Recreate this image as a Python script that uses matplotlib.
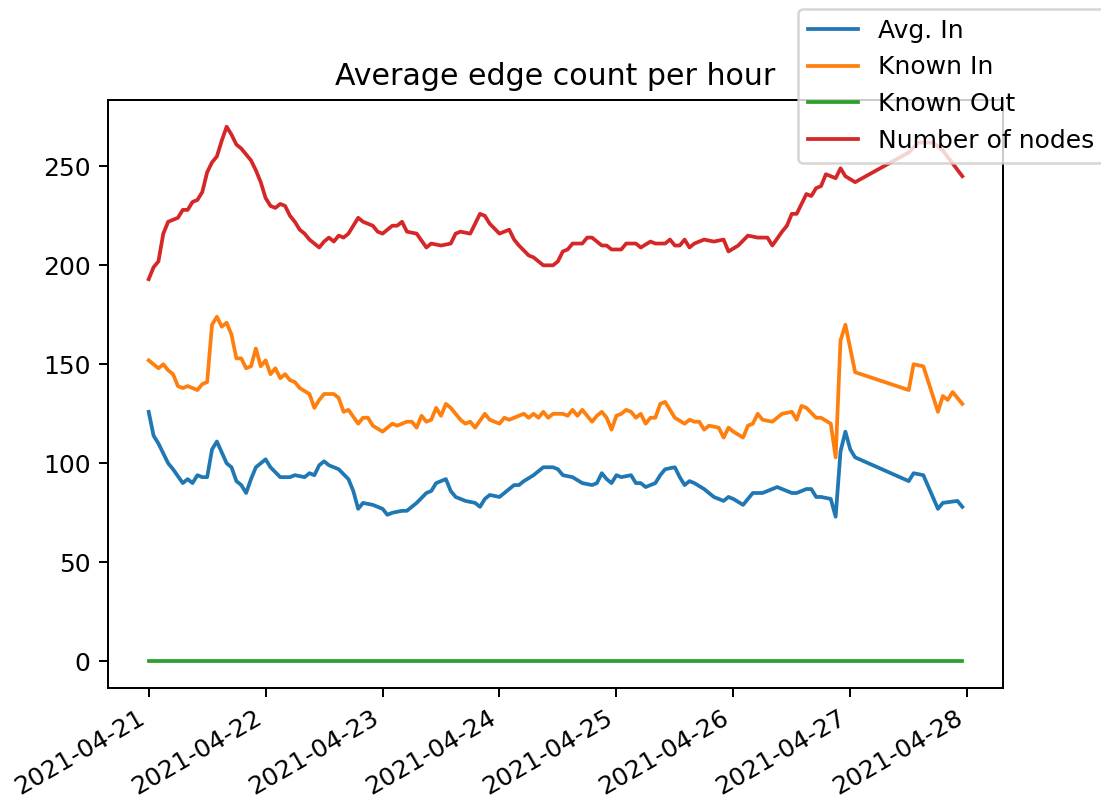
import pandas as pd
import matplotlib.pyplot as plt

# hours after 2021-04-21 00:00
avg_in_h = [0, 1, 2, 4, 5, 7, 8, 9, 10, 11, 12, 13, 14, 16, 17, 18, 19, 20, 21, 22, 24, 25, 27, 29, 30,
            32, 33, 34, 35, 36, 37, 39, 41, 42, 43, 44, 46, 48, 49, 50, 52, 53, 54, 55, 57, 58, 59, 61,
            62, 63, 65, 67, 68, 69, 70, 72, 73, 75, 76, 77, 79, 81, 83, 84, 85, 87, 89, 91, 92, 93, 94,
            95, 96, 97, 99, 100, 101, 102, 104, 105, 106, 108, 109, 110, 111, 112, 114, 116, 118, 119,
            120, 122, 124, 125, 126, 129, 130, 132, 133, 135, 136, 137, 138, 140, 141, 142, 143, 144,
            145, 156, 157, 159, 162, 163, 166, 167]
avg_in = [126, 114, 110, 100, 97, 90, 92, 90, 94, 93, 93, 107, 111, 100, 98, 91, 89, 85, 92, 98, 102, 98,
          93, 93, 94, 93, 95, 94, 99, 101, 99, 97, 92, 86, 77, 80, 79, 77, 74, 75, 76, 76, 78, 80, 85,
          86, 90, 92, 86, 83, 81, 80, 78, 82, 84, 83, 85, 89, 89, 91, 94, 98, 98, 97, 94, 93, 90, 89,
          90, 95, 92, 90, 94, 93, 94, 90, 90, 88, 90, 94, 97, 98, 93, 89, 91, 90, 87, 83, 81, 83, 82,
          79, 85, 85, 85, 88, 87, 85, 85, 87, 87, 83, 83, 82, 73, 106, 116, 107, 103, 91, 95, 94, 77,
          80, 81, 78]

known_in_h = [0, 2, 3, 4, 5, 6, 7, 8, 10, 11, 12, 13, 14, 15, 16, 17, 18, 19, 20, 21, 22, 23, 24, 25, 26,
              27, 28, 29, 30, 31, 33, 34, 35, 36, 38, 39, 40, 41, 43, 44, 45, 46, 48, 50, 51, 53, 54, 55,
              56, 57, 58, 59, 60, 61, 62, 64, 65, 66, 67, 69, 70, 72, 73, 74, 76, 77, 78, 79, 80, 81, 82,
              83, 85, 86, 87, 88, 89, 91, 92, 93, 94, 95, 96, 97, 98, 99, 100, 101, 102, 103, 104, 105,
              106, 107, 108, 110, 111, 112, 113, 114, 115, 117, 118, 119, 120, 122, 123, 124, 125, 126,
              128, 129, 130, 132, 133, 134, 135, 137, 138, 140, 141, 142, 143, 144, 145, 156, 157, 159,
              162, 163, 164, 165, 167]
known_in = [152, 148, 150, 147, 145, 139, 138, 139, 137, 140, 141, 170, 174, 169, 171, 165, 153, 153, 148,
            149, 158, 149, 152, 145, 148, 143, 145, 142, 141, 138, 135, 128, 132, 135, 135, 133, 126, 127,
            120, 123, 123, 119, 116, 120, 119, 121, 121, 118, 124, 121, 122, 128, 124, 130, 128, 122, 120,
            121, 118, 125, 122, 120, 123, 122, 124, 125, 123, 125, 123, 126, 123, 125, 125, 124, 127, 124,
            127, 121, 124, 126, 123, 117, 124, 125, 127, 126, 123, 125, 120, 123, 123, 130, 131, 127, 123,
            120, 122, 121, 121, 117, 119, 118, 113, 118, 116, 113, 119, 120, 125, 122, 121, 123, 125, 126,
            122, 129, 128, 123, 123, 120, 103, 162, 170, 158, 146, 137, 150, 149, 126, 134, 132, 136, 130]

known_out_h = [0, 145, 156, 167]
known_out = [0, 0, 0, 0]

nodes_h = [0, 1, 2, 3, 4, 6, 7, 8, 9, 10, 11, 12, 13, 14, 15, 16, 17, 18, 19, 21, 22, 23, 24, 25, 26, 27,
           28, 29, 30, 31, 32, 33, 35, 36, 37, 38, 39, 40, 41, 43, 44, 46, 47, 48, 50, 51, 52, 53, 55, 57,
           58, 60, 62, 63, 64, 66, 67, 68, 69, 70, 72, 74, 75, 76, 78, 79, 81, 83, 84, 85, 86, 87, 89, 90,
           91, 93, 94, 95, 97, 98, 100, 101, 103, 104, 106, 107, 108, 109, 110, 111, 112, 113, 114, 116,
           118, 119, 121, 123, 125, 127, 128, 130, 131, 132, 133, 135, 136, 137, 138, 139, 141, 142, 143,
           145, 156, 158, 161, 163, 167]
nodes = [193, 199, 202, 216, 222, 224, 228, 228, 232, 233, 237, 247, 252, 255, 263, 270, 266, 261, 259, 253,
         248, 242, 234, 230, 229, 231, 230, 225, 222, 218, 216, 213, 209, 212, 214, 212, 215, 214, 216, 224,
         222, 220, 217, 216, 220, 220, 222, 217, 216, 209, 211, 210, 211, 216, 217, 216, 221, 226, 225, 221,
         216, 218, 213, 210, 205, 204, 200, 200, 202, 207, 208, 211, 211, 214, 214, 210, 210, 208, 208, 211,
         211, 209, 212, 211, 211, 213, 210, 210, 213, 209, 211, 212, 213, 212, 213, 207, 210, 215, 214, 214,
         210, 217, 220, 226, 226, 236, 235, 239, 240, 246, 244, 249, 245, 242, 257, 262, 262, 258, 245]

start = pd.Timestamp('2021-04-21')


def to_time(hours):
    return start + pd.to_timedelta(hours, unit='h')


fig, ax = plt.subplots(figsize=(1101 / 180, 803 / 180), dpi=180)
ax.plot(to_time(avg_in_h), avg_in, label='Avg. In')
ax.plot(to_time(known_in_h), known_in, label='Known In')
ax.plot(to_time(known_out_h), known_out, label='Known Out')
ax.plot(to_time(nodes_h), nodes, label='Number of nodes')
ax.set_title('Average edge count per hour')

fig.autofmt_xdate()
fig.subplots_adjust(left=108 / 1101, right=1003 / 1101, top=1 - 100 / 803, bottom=1 - 688 / 803)
fig.legend(loc='upper left', bbox_to_anchor=(798 / 1101, 1 - 9 / 803), borderaxespad=0)

fig.savefig('out.png', dpi=180)
